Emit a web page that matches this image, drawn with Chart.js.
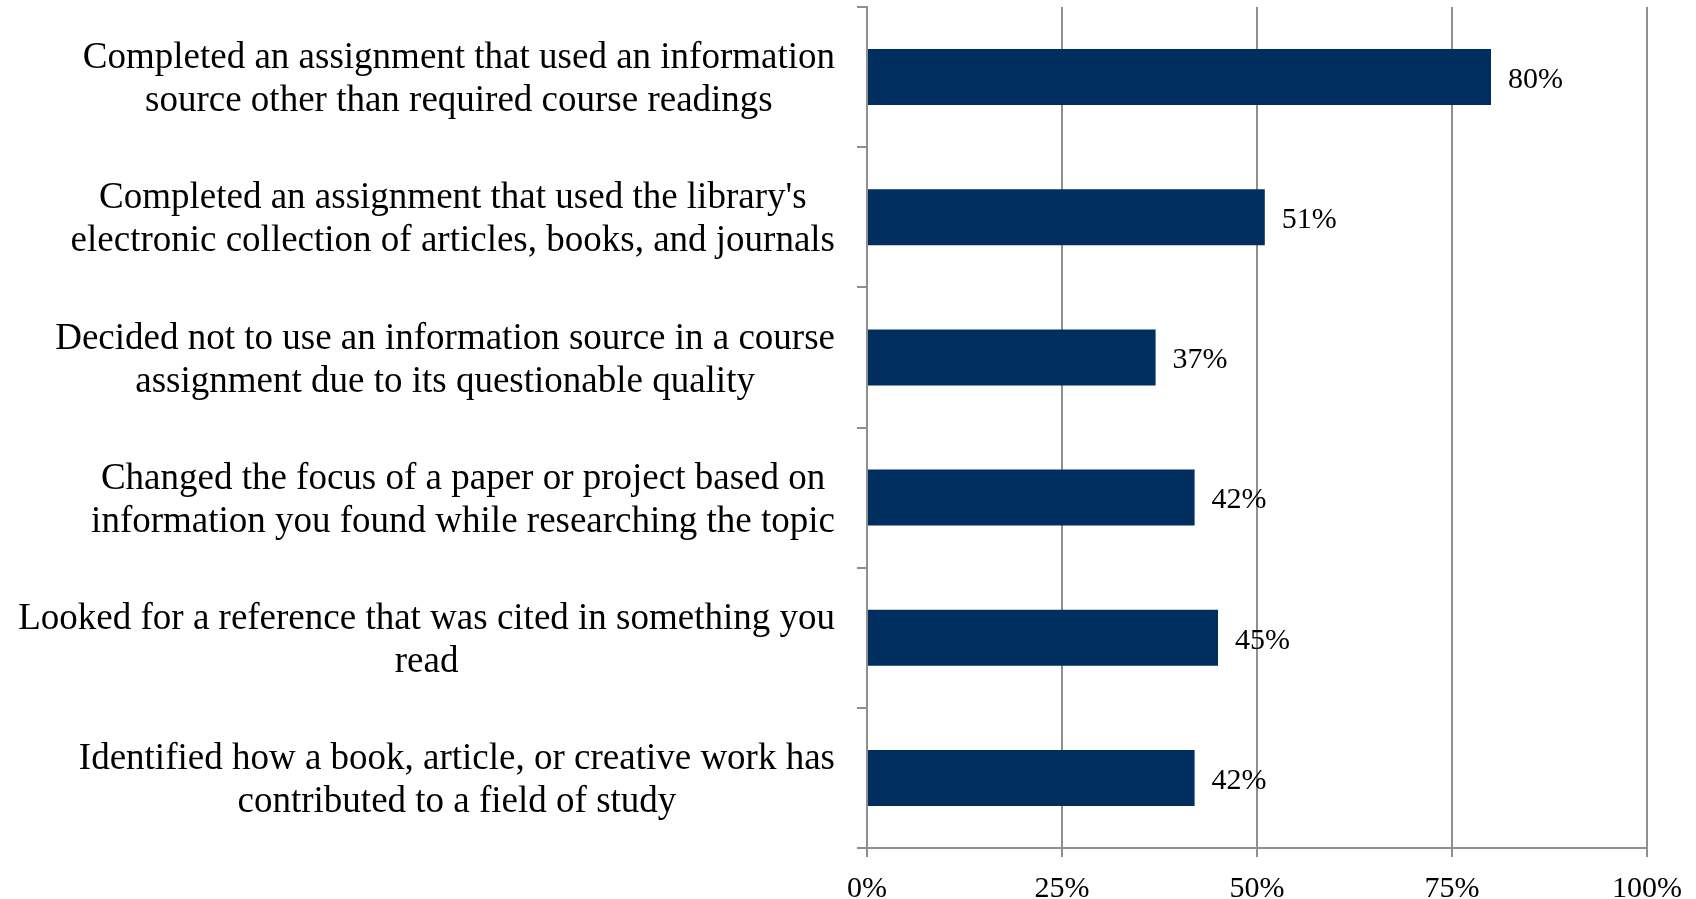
<!DOCTYPE html>
<html>
<head>
<meta charset="utf-8">
<title>Research activities</title>
<script src="https://cdn.jsdelivr.net/npm/chart.js@4/dist/chart.umd.min.js"></script>
<style>
  html, body { margin: 0; padding: 0; background: #fff; }
  #wrap { width: 1696px; height: 899px; position: relative; }
</style>
</head>
<body>
<div id="wrap"><canvas id="activityChart"></canvas></div>
<script>
// Survey items, each split into the lines shown on the axis
const activities = [
  ["Completed an assignment that used an information", "source other than required course readings"],
  ["Completed an assignment that used the library's", "electronic collection of articles, books, and journals"],
  ["Decided not to use an information source in a course", "assignment due to its questionable quality"],
  ["Changed the focus of a paper or project based on", "information you found while researching the topic"],
  ["Looked for a reference that was cited in something you", "read"],
  ["Identified how a book, article, or creative work has", "contributed to a field of study"],
];

// Percent of respondents
const percents = [80, 51, 37, 42, 45, 42];

const axisMin = 0;
const axisMax = 100;
const axisStep = 25;

const serif = "'Liberation Serif', 'Times New Roman', serif";
const gridGray = "#8f8f8f";

// Draws the category labels as centred blocks, right-aligned against the axis
const categoryLabels = {
  id: "categoryLabels",
  afterDraw(chart) {
    const ctx = chart.ctx;
    const y = chart.scales.y;
    const right = chart.chartArea.left - 32;
    const lineH = 43;
    ctx.save();
    ctx.font = "37px " + serif;
    ctx.fillStyle = "#000";
    ctx.textAlign = "center";
    ctx.textBaseline = "middle";
    activities.forEach((lines, i) => {
      const w = Math.max(...lines.map((l) => ctx.measureText(l).width));
      const cx = right - w / 2;
      const cy = y.getPixelForValue(i) + 3;
      lines.forEach((line, j) => {
        ctx.fillText(line, cx, cy + (j - (lines.length - 1) / 2) * lineH);
      });
    });
    ctx.restore();
  },
};

// Value labels just past the end of each bar
const valueLabels = {
  id: "valueLabels",
  afterDatasetsDraw(chart) {
    const ctx = chart.ctx;
    const meta = chart.getDatasetMeta(0);
    ctx.save();
    ctx.font = "30px " + serif;
    ctx.fillStyle = "#000";
    ctx.textAlign = "left";
    ctx.textBaseline = "middle";
    meta.data.forEach((bar, i) => {
      ctx.fillText(percents[i] + "%", bar.x + 17, bar.y + 3);
    });
    ctx.restore();
  },
};

new Chart(document.getElementById("activityChart"), {
  type: "bar",
  data: {
    labels: activities,
    datasets: [
      {
        data: percents,
        backgroundColor: "#002e5f",
        borderWidth: 0,
        barPercentage: 0.4,
        categoryPercentage: 1,
      },
    ],
  },
  options: {
    indexAxis: "y",
    responsive: true,
    maintainAspectRatio: false,
    animation: false,
    layout: { padding: { top: 7, right: 49, left: 0, bottom: 0 } },
    plugins: {
      legend: { display: false },
      tooltip: { enabled: false },
    },
    scales: {
      x: {
        min: axisMin,
        max: axisMax,
        ticks: {
          stepSize: axisStep,
          padding: 14,
          color: "#000",
          font: { family: serif, size: 30 },
          callback: (v) => v + "%",
        },
        grid: { color: gridGray, lineWidth: 2, tickLength: 9 },
        border: { color: gridGray, width: 2 },
        afterFit: (s) => { s.height = 51; },
      },
      y: {
        ticks: { display: false },
        grid: {
          offset: true,
          drawOnChartArea: false,
          color: gridGray,
          lineWidth: 2,
          tickLength: 10,
        },
        border: { color: gridGray, width: 2 },
        afterFit: (s) => { s.width = 867; },
      },
    },
  },
  plugins: [categoryLabels, valueLabels],
});
</script>
</body>
</html>
